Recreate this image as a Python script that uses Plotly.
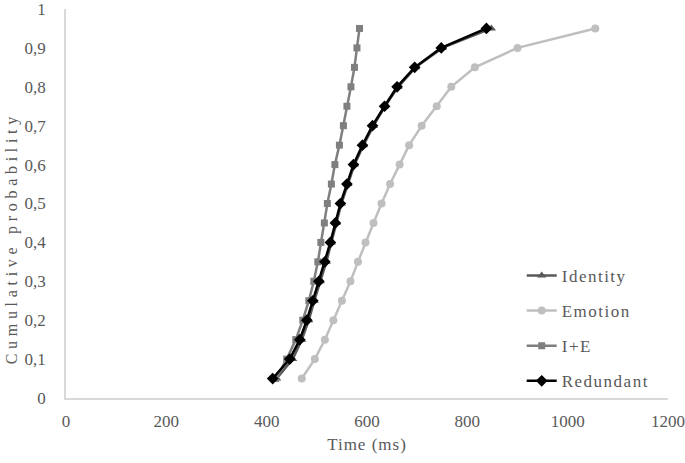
import plotly.graph_objects as go

# cumulative probability levels (shared by all series)
prob = [0.05, 0.10, 0.15, 0.20, 0.25, 0.30, 0.35, 0.40, 0.45, 0.50,
        0.55, 0.60, 0.65, 0.70, 0.75, 0.80, 0.85, 0.90, 0.95]

# reaction times (ms) per condition
identity = [420, 452, 470, 484, 495, 507, 519, 529, 539, 549,
            562, 575, 593, 613, 636, 662, 697, 750, 848]
emotion = [470, 496, 516, 533, 550, 567, 582, 597, 613, 629,
           646, 665, 684, 709, 739, 768, 815, 900, 1055]
i_plus_e = [418, 440, 458, 472, 484, 494, 502, 508, 515, 521,
            529, 536, 545, 553, 560, 568, 575, 580, 585]
redundant = [412, 446, 466, 480, 492, 504, 516, 527, 537, 547,
             560, 573, 591, 611, 635, 660, 695, 748, 838]

x_ticks = [0, 200, 400, 600, 800, 1000, 1200]
y_ticks = [0, 0.1, 0.2, 0.3, 0.4, 0.5, 0.6, 0.7, 0.8, 0.9, 1]
y_tick_labels = ['0', '0,1', '0,2', '0,3', '0,4', '0,5', '0,6', '0,7', '0,8', '0,9', '1']

series = [
    ('Identity', identity, '#595959', 'triangle-up', 8),
    ('Emotion', emotion, '#BFBFBF', 'circle', 8),
    ('I+E', i_plus_e, '#7F7F7F', 'square', 7),
    ('Redundant', redundant, '#000000', 'diamond', 9),
]


def spaced(text, px):
    # the original picture is stretched, so widen the text a little
    return '<span style="letter-spacing:%spx">%s</span>' % (px, text)


fig = go.Figure()
for name, xs, color, symbol, size in series:
    fig.add_trace(go.Scatter(
        x=xs, y=prob, name=spaced(name, 1.5), mode='lines+markers',
        legendgroup=name,
        line=dict(color=color, width=2.5),
        marker=dict(color=color, symbol=symbol, size=size),
    ))

font_family = 'Liberation Serif'
text_color = '#595959'

# y title as an annotation: it sits lower than the plot centre in the original
fig.add_annotation(
    text=spaced('Cumulative probability', 4.7), textangle=-90,
    xref='paper', yref='paper', x=-0.09, y=0.41,
    xanchor='center', yanchor='middle', showarrow=False,
    font=dict(family=font_family, size=16, color=text_color),
)

fig.update_layout(
    width=685, height=463,
    margin=dict(l=66, r=17, t=9, b=65),
    plot_bgcolor='white', paper_bgcolor='white',
    font=dict(family=font_family, size=17, color=text_color),
    showlegend=True,
    legend=dict(x=0.757, y=0.36, xanchor='left', yanchor='top',
                bgcolor='rgba(0,0,0,0)', tracegroupgap=10,
                font=dict(family=font_family, size=17, color=text_color)),
    xaxis=dict(range=[0, 1200], tickvals=x_ticks, showgrid=False, zeroline=False,
               showline=True, linecolor='#D9D9D9', linewidth=1.5,
               ticks='', ticklabelstandoff=7, automargin=False,
               tickfont=dict(size=17, color=text_color),
               title=dict(text=spaced('Time (ms)', 1), standoff=8,
                          font=dict(size=17, color=text_color))),
    yaxis=dict(range=[0, 1], tickvals=y_ticks, ticktext=y_tick_labels,
               showgrid=False, zeroline=False,
               showline=True, linecolor='#D9D9D9', linewidth=1.5,
               ticks='', ticklabelstandoff=15, automargin=False,
               ticklabeloverflow='allow',
               tickfont=dict(size=17, color=text_color)),
)

# drop the page's default body margin so the figure sits at the window corner
fig.write_html('out.html', config={'displayModeBar': False},
               post_script="document.body.style.margin='0px';")
